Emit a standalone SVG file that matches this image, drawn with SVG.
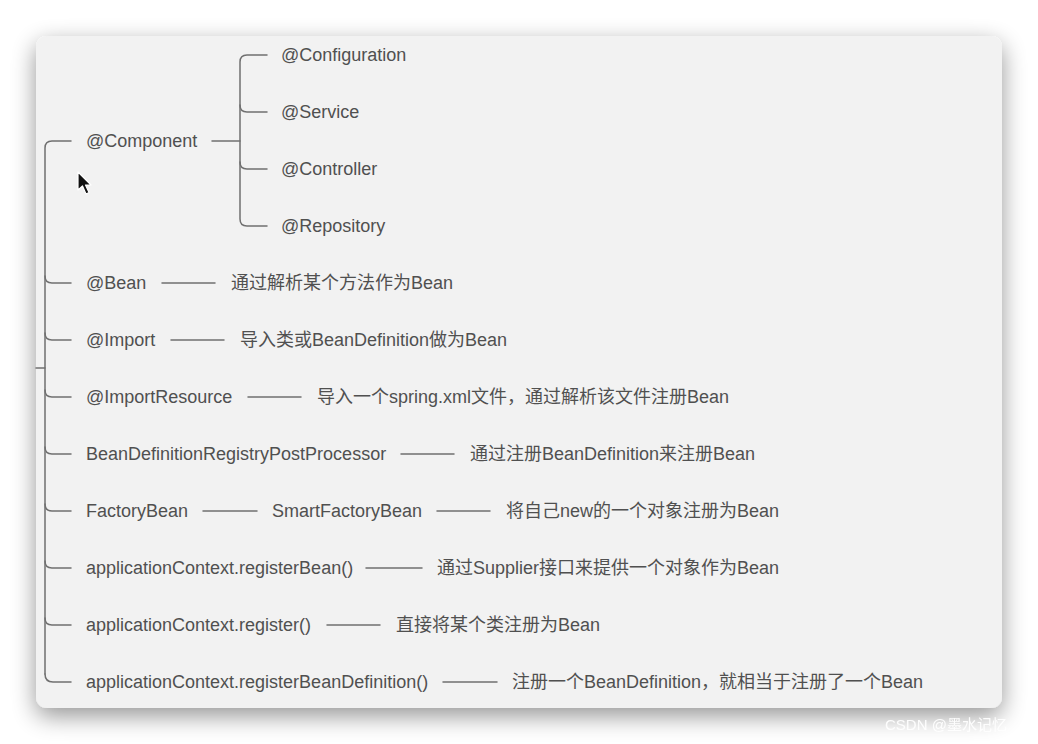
<svg xmlns="http://www.w3.org/2000/svg" width="1038" height="744" viewBox="0 0 1038 744">
<defs>
<filter id="sh" x="-10%" y="-10%" width="120%" height="125%">
<feGaussianBlur in="SourceAlpha" stdDeviation="12"/>
<feOffset dx="0" dy="8" result="b"/>
<feComponentTransfer><feFuncA type="linear" slope="0.42"/></feComponentTransfer>
<feMerge><feMergeNode/><feMergeNode in="SourceGraphic"/></feMerge>
</filter>
<style>
.t{font-family:"Liberation Sans","Noto Sans CJK SC",sans-serif;font-size:18px;fill:#505050}
.c{fill:none;stroke:#707070;stroke-width:1.5;stroke-linecap:round}
.wm{font-family:"Liberation Sans","Noto Sans CJK SC",sans-serif;font-size:15px;fill:#ffffff;opacity:0.95}
</style>
</defs>
<rect width="1038" height="744" fill="#ffffff"/>
<rect x="36" y="36" width="966" height="672" rx="11" fill="#f2f2f2" filter="url(#sh)"/>

<g id="connectors">
<path class="c" d="M36,368 H45"/>
<path class="c" d="M45,674 V148 Q45,141 52,141 H71"/>
<path class="c" d="M45,674 Q45,682 53,682 H71"/>
<path class="c" d="M45,276 Q45,283 52,283 H71"/>
<path class="c" d="M45,333 Q45,340 52,340 H71"/>
<path class="c" d="M45,390 Q45,397 52,397 H71"/>
<path class="c" d="M45,447 Q45,454 52,454 H71"/>
<path class="c" d="M45,504 Q45,511 52,511 H71"/>
<path class="c" d="M45,561 Q45,568 52,568 H71"/>
<path class="c" d="M45,618 Q45,625 52,625 H71"/>
<path class="c" d="M212,141 H240"/>
<path class="c" d="M267,55 H247 Q240,55 240,62 V219 Q240,226 247,226 H267"/>
<path class="c" d="M240,105 Q240,112 247,112 H267"/>
<path class="c" d="M240,162 Q240,169 247,169 H267"/>
<path class="c" d="M162,283 H215"/>
<path class="c" d="M171,340 H224"/>
<path class="c" d="M248,397 H301"/>
<path class="c" d="M401,454 H454"/>
<path class="c" d="M203,511 H257"/>
<path class="c" d="M437,511 H490"/>
<path class="c" d="M366,568 H422"/>
<path class="c" d="M327,625 H380"/>
<path class="c" d="M443,682 H497"/>
</g>

<g id="n-component"><text class="t" x="86" y="147">@Component</text></g>
<g id="n-configuration"><text class="t" x="281" y="61">@Configuration</text></g>
<g id="n-service"><text class="t" x="281" y="118">@Service</text></g>
<g id="n-controller"><text class="t" x="281" y="175">@Controller</text></g>
<g id="n-repository"><text class="t" x="281" y="232">@Repository</text></g>
<g id="n-bean"><text class="t" x="86" y="289">@Bean</text></g>
<g id="n-bean-desc"><text class="t" x="231" y="289">通过解析某个方法作为Bean</text></g>
<g id="n-import"><text class="t" x="86" y="346">@Import</text></g>
<g id="n-import-desc"><text class="t" x="240" y="346">导入类或BeanDefinition做为Bean</text></g>
<g id="n-importresource"><text class="t" x="86" y="403">@ImportResource</text></g>
<g id="n-importresource-desc"><text class="t" x="317" y="403">导入一个spring.xml文件，通过解析该文件注册Bean</text></g>
<g id="n-bdrpp"><text class="t" x="86" y="460">BeanDefinitionRegistryPostProcessor</text></g>
<g id="n-bdrpp-desc"><text class="t" x="470" y="460">通过注册BeanDefinition来注册Bean</text></g>
<g id="n-factorybean"><text class="t" x="86" y="517">FactoryBean</text></g>
<g id="n-smartfactorybean"><text class="t" x="272" y="517">SmartFactoryBean</text></g>
<g id="n-factorybean-desc"><text class="t" x="506" y="517">将自己new的一个对象注册为Bean</text></g>
<g id="n-registerbean"><text class="t" x="86" y="574">applicationContext.registerBean()</text></g>
<g id="n-registerbean-desc"><text class="t" x="437" y="574">通过Supplier接口来提供一个对象作为Bean</text></g>
<g id="n-register"><text class="t" x="86" y="631">applicationContext.register()</text></g>
<g id="n-register-desc"><text class="t" x="396" y="631">直接将某个类注册为Bean</text></g>
<g id="n-registerbd"><text class="t" x="86" y="688">applicationContext.registerBeanDefinition()</text></g>
<g id="n-registerbd-desc"><text class="t" x="512" y="688">注册一个BeanDefinition，就相当于注册了一个Bean</text></g>

<path d="M78,172 L78,190 L82.5,186 L86,194 L89,192.5 L85.5,185 L91,185 Z" fill="#111111" stroke="#ffffff" stroke-width="1.2" stroke-linejoin="round"/>

<text class="wm" x="885" y="730">CSDN @墨水记忆</text>
</svg>
